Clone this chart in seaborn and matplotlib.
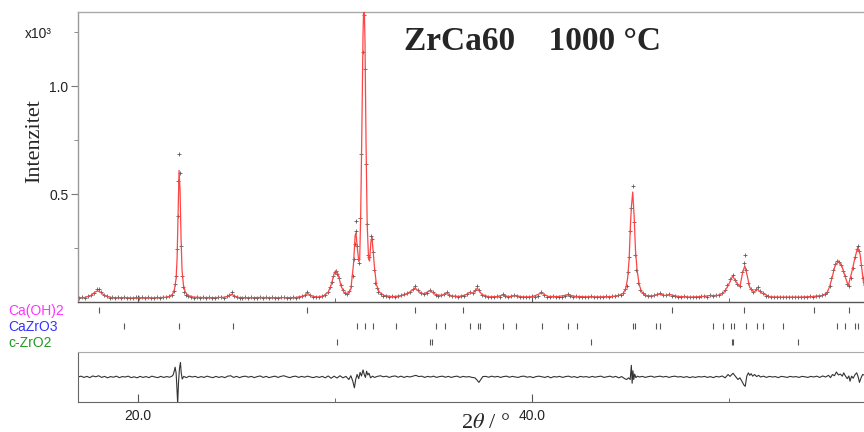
import numpy as np
import matplotlib
matplotlib.use("Agg")
import matplotlib.pyplot as plt
import seaborn as sns

# =========================================================================
# data (intensity in units of 10^3 counts)
# =========================================================================
tt_calc = [16.95, 17.3, 17.6, 17.8, 17.95, 18.1, 18.3, 18.6, 19.0, 19.3, 19.6, 20.0, 20.5,
           21.0, 21.4, 21.6, 21.75, 21.85, 21.93, 21.98, 22.03, 22.08, 22.13, 22.18, 22.23,
           22.30, 22.40, 22.55, 22.8, 23.2, 23.8, 24.4, 24.6, 24.75, 24.9, 25.1, 25.6, 26.2,
           26.8, 27.4, 28.0, 28.4, 28.6, 28.8, 29.1, 29.4, 29.65, 29.8, 29.95, 30.05, 30.15,
           30.3, 30.45, 30.65, 30.8, 30.93, 31.02, 31.06, 31.12, 31.2, 31.25, 31.3, 31.36,
           31.42, 31.47, 31.52, 31.57, 31.63, 31.7, 31.75, 31.82, 31.87, 31.93, 31.99, 32.1,
           32.25, 32.5, 32.9, 33.3, 33.6, 33.85, 34.06, 34.3, 34.5, 34.82, 35.1, 35.4, 35.67,
           35.9, 36.3, 36.6, 36.85, 37.0, 37.22, 37.45, 37.8, 38.2, 38.53, 38.8, 39.14, 39.5,
           40.0, 40.49, 40.8, 41.3, 41.83, 42.2, 42.8, 43.4, 44.0, 44.4, 44.62, 44.75, 44.85,
           44.93, 44.98, 45.04, 45.11, 45.18, 45.25, 45.33, 45.43, 45.55, 45.8, 46.1, 46.5,
           46.75, 47.0, 47.4, 48.0, 48.6, 49.04, 49.4, 49.7, 49.95, 50.18, 50.38, 50.55,
           50.69, 50.8, 50.92, 51.05, 51.26, 51.42, 51.65, 52.08, 52.6, 53.1, 53.6, 54.2,
           54.7, 54.96, 55.1, 55.21, 55.38, 55.55, 55.72, 55.88, 56.05, 56.23, 56.4, 56.53,
           56.65, 56.82, 56.9]
i_calc = [0.020, 0.021, 0.030, 0.045, 0.052, 0.045, 0.030, 0.021, 0.019, 0.021, 0.019, 0.019, 0.019,
          0.020, 0.022, 0.026, 0.036, 0.060, 0.110, 0.200, 0.400, 0.610, 0.520, 0.300, 0.150,
          0.080, 0.045, 0.030, 0.023, 0.021, 0.020, 0.022, 0.028, 0.036, 0.028, 0.021, 0.020, 0.021,
          0.020, 0.020, 0.021, 0.028, 0.040, 0.028, 0.023, 0.028, 0.045, 0.080, 0.130, 0.145, 0.130,
          0.075, 0.045, 0.038, 0.060, 0.170, 0.310, 0.320, 0.260, 0.190, 0.200, 0.400, 0.800,
          1.250, 1.420, 1.200, 0.750, 0.360, 0.200, 0.190, 0.280, 0.300, 0.240, 0.170, 0.080,
          0.045, 0.030, 0.025, 0.028, 0.035, 0.050, 0.065, 0.045, 0.038, 0.052, 0.035, 0.030, 0.042,
          0.028, 0.026, 0.032, 0.045, 0.040, 0.064, 0.035, 0.024, 0.025, 0.032, 0.025, 0.030, 0.024,
          0.024, 0.042, 0.026, 0.025, 0.033, 0.026, 0.024, 0.024, 0.025, 0.030, 0.040, 0.060, 0.110,
          0.200, 0.330, 0.440, 0.510, 0.400, 0.240, 0.150, 0.085, 0.048, 0.030, 0.028, 0.037,
          0.030, 0.034, 0.026, 0.023, 0.025, 0.030, 0.030, 0.040, 0.075, 0.120, 0.090, 0.070,
          0.137, 0.168, 0.122, 0.068, 0.045, 0.060, 0.042, 0.024, 0.023, 0.023, 0.023, 0.025,
          0.030, 0.040, 0.070, 0.106, 0.168, 0.190, 0.168, 0.122, 0.075, 0.139, 0.208, 0.253,
          0.222, 0.092, 0.070]

tt_obs = [17.00, 17.15, 17.30, 17.45, 17.60, 17.75, 17.90, 18.00, 18.10, 18.25, 18.40, 18.55,
          18.70, 18.85, 19.00, 19.15, 19.30, 19.45, 19.60, 19.75, 19.90, 20.05, 20.20, 20.35,
          20.50, 20.65, 20.80, 20.95, 21.10, 21.25, 21.40, 21.55, 21.70, 21.80, 21.88, 21.95,
          21.99, 22.02, 22.05, 22.08, 22.12, 22.16, 22.21, 22.27, 22.34, 22.42, 22.55, 22.70,
          22.85, 23.00, 23.15, 23.30, 23.45, 23.60, 23.75, 23.90, 24.05, 24.20, 24.35, 24.50,
          24.62, 24.75, 24.88, 25.00, 25.15, 25.30, 25.45, 25.60, 25.75, 25.90, 26.05, 26.20,
          26.35, 26.50, 26.65, 26.80, 26.95, 27.10, 27.25, 27.40, 27.55, 27.70, 27.85, 28.00,
          28.15, 28.30, 28.45, 28.60, 28.75, 28.90, 29.05, 29.20, 29.35, 29.50, 29.62, 29.72,
          29.82, 29.92, 30.00, 30.05, 30.12, 30.20, 30.28, 30.38, 30.50, 30.62, 30.72, 30.82,
          30.90, 30.97, 31.01, 31.04, 31.07, 31.10, 31.15, 31.20, 31.26, 31.34, 31.44, 31.48,
          31.51, 31.58, 31.63, 31.68, 31.73, 31.80, 31.85, 31.90, 31.97, 32.04, 32.12, 32.20,
          32.32, 32.45, 32.60, 32.75, 32.90, 33.05, 33.20, 33.35, 33.50, 33.65, 33.80, 33.95,
          34.06, 34.20, 34.35, 34.50, 34.65, 34.80, 34.95, 35.10, 35.25, 35.40, 35.55, 35.67,
          35.80, 35.95, 36.10, 36.25, 36.40, 36.55, 36.70, 36.85, 37.00, 37.10, 37.20, 37.32,
          37.45, 37.60, 37.75, 37.90, 38.05, 38.20, 38.35, 38.50, 38.65, 38.80, 38.95, 39.10,
          39.25, 39.40, 39.55, 39.70, 39.85, 40.00, 40.15, 40.30, 40.45, 40.60, 40.75, 40.90,
          41.05, 41.20, 41.35, 41.50, 41.65, 41.80, 41.95, 42.10, 42.25, 42.40, 42.55, 42.70,
          42.85, 43.00, 43.15, 43.30, 43.45, 43.60, 43.75, 43.90, 44.05, 44.20, 44.35, 44.50,
          44.62, 44.72, 44.80, 44.87, 44.92, 44.97, 45.03, 45.10, 45.16, 45.22, 45.30, 45.40,
          45.50, 45.62, 45.75, 45.90, 46.05, 46.20, 46.35, 46.50, 46.65, 46.80, 46.95, 47.10,
          47.25, 47.40, 47.55, 47.70, 47.85, 48.00, 48.15, 48.30, 48.45, 48.60, 48.75, 48.90,
          49.05, 49.20, 49.35, 49.50, 49.65, 49.80, 49.92, 50.05, 50.18, 50.30, 50.42, 50.55,
          50.66, 50.75, 50.80, 50.88, 50.98, 51.10, 51.22, 51.35, 51.45, 51.58, 51.70, 51.85,
          52.00, 52.15, 52.30, 52.45, 52.60, 52.75, 52.90, 53.05, 53.20, 53.35, 53.50, 53.65,
          53.80, 53.95, 54.10, 54.25, 54.40, 54.55, 54.70, 54.85, 54.98, 55.10, 55.20, 55.30,
          55.40, 55.50, 55.60, 55.70, 55.80, 55.90, 56.00, 56.08, 56.18, 56.28, 56.38, 56.48,
          56.55, 56.62, 56.72, 56.80, 56.88]
i_obs = [0.018, 0.022, 0.020, 0.026, 0.032, 0.044, 0.058, 0.060, 0.048, 0.034, 0.026, 0.020,
         0.022, 0.017, 0.021, 0.019, 0.023, 0.018, 0.020, 0.017, 0.022, 0.019, 0.021, 0.017,
         0.022, 0.019, 0.018, 0.023, 0.020, 0.022, 0.024, 0.027, 0.034, 0.050, 0.085, 0.120,
         0.245, 0.400, 0.560, 0.685, 0.600, 0.260, 0.120, 0.070, 0.045, 0.032, 0.026, 0.022,
         0.020, 0.023, 0.019, 0.021, 0.018, 0.022, 0.020, 0.017, 0.021, 0.023, 0.020, 0.026,
         0.032, 0.045, 0.030, 0.024, 0.020, 0.018, 0.022, 0.019, 0.021, 0.017, 0.020, 0.023,
         0.019, 0.021, 0.018, 0.022, 0.020, 0.017, 0.021, 0.023, 0.019, 0.020, 0.022, 0.020,
         0.023, 0.026, 0.033, 0.045, 0.032, 0.025, 0.022, 0.024, 0.027, 0.033, 0.045, 0.070,
         0.095, 0.120, 0.140, 0.145, 0.130, 0.110, 0.080, 0.055, 0.040, 0.037, 0.050, 0.075,
         0.120, 0.200, 0.270, 0.330, 0.375, 0.260, 0.200, 0.180, 0.390, 0.685, 1.160, 1.330,
         1.080, 0.640, 0.360, 0.220, 0.210, 0.305, 0.290, 0.230, 0.150, 0.090, 0.065, 0.048,
         0.036, 0.030, 0.026, 0.024, 0.027, 0.023, 0.029, 0.031, 0.035, 0.040, 0.048, 0.060,
         0.072, 0.055, 0.044, 0.038, 0.042, 0.055, 0.045, 0.034, 0.029, 0.032, 0.038, 0.048,
         0.033, 0.026, 0.028, 0.024, 0.027, 0.030, 0.036, 0.048, 0.042, 0.055, 0.072, 0.055,
         0.034, 0.026, 0.022, 0.025, 0.021, 0.026, 0.024, 0.035, 0.028, 0.023, 0.026, 0.032,
         0.027, 0.022, 0.025, 0.021, 0.024, 0.026, 0.023, 0.028, 0.045, 0.033, 0.025, 0.022,
         0.026, 0.024, 0.021, 0.025, 0.028, 0.036, 0.029, 0.024, 0.026, 0.022, 0.025, 0.023,
         0.021, 0.026, 0.024, 0.022, 0.025, 0.023, 0.027, 0.024, 0.026, 0.028, 0.031, 0.034,
         0.042, 0.060, 0.075, 0.140, 0.210, 0.330, 0.435, 0.540, 0.370, 0.220, 0.150, 0.090,
         0.055, 0.040, 0.032, 0.028, 0.030, 0.033, 0.035, 0.040, 0.032, 0.034, 0.038, 0.030,
         0.027, 0.025, 0.023, 0.026, 0.022, 0.024, 0.021, 0.025, 0.023, 0.026, 0.028, 0.025,
         0.031, 0.028, 0.032, 0.034, 0.040, 0.055, 0.080, 0.105, 0.125, 0.100, 0.085, 0.075,
         0.140, 0.180, 0.218, 0.150, 0.090, 0.060, 0.048, 0.058, 0.070, 0.050, 0.040, 0.030,
         0.026, 0.023, 0.025, 0.022, 0.024, 0.021, 0.025, 0.023, 0.022, 0.024, 0.021, 0.025,
         0.023, 0.022, 0.026, 0.024, 0.027, 0.029, 0.032, 0.036, 0.048, 0.075, 0.110, 0.150,
         0.175, 0.190, 0.185, 0.170, 0.145, 0.120, 0.085, 0.075, 0.110, 0.160, 0.210, 0.245,
         0.260, 0.235, 0.170, 0.110, 0.080]

tt_diff = [16.95, 17.1, 17.25, 17.4, 17.55, 17.7, 17.85, 18.0, 18.15, 18.3, 18.45, 18.6, 18.75,
           18.9, 19.05, 19.2, 19.35, 19.5, 19.65, 19.8, 19.95, 20.1, 20.25, 20.4, 20.55, 20.7,
           20.85, 21.0, 21.15, 21.3, 21.45, 21.6, 21.72, 21.78, 21.84, 21.88, 21.93, 21.97,
           22.01, 22.05, 22.1, 22.15, 22.19, 22.24, 22.32, 22.45, 22.6, 22.75, 22.9, 23.05,
           23.2, 23.35, 23.5, 23.65, 23.8, 23.95, 24.1, 24.25, 24.4, 24.55, 24.7, 24.85, 25.0,
           25.15, 25.3, 25.45, 25.6, 25.75, 25.9, 26.05, 26.2, 26.35, 26.5, 26.65, 26.8, 26.95,
           27.1, 27.25, 27.4, 27.55, 27.7, 27.85, 28.0, 28.15, 28.3, 28.45, 28.6, 28.75, 28.9,
           29.05, 29.2, 29.35, 29.5, 29.65, 29.8, 29.95, 30.1, 30.25, 30.4, 30.55, 30.7, 30.8,
           30.9, 30.98, 31.05, 31.12, 31.2, 31.27, 31.34, 31.42, 31.48, 31.54, 31.6, 31.66,
           31.72, 31.8, 31.9, 32.0, 32.15, 32.3, 32.45, 32.6, 32.75, 32.9, 33.05, 33.2, 33.35,
           33.5, 33.65, 33.8, 33.95, 34.1, 34.25, 34.4, 34.55, 34.7, 34.85, 35.0, 35.15, 35.3,
           35.45, 35.6, 35.75, 35.9, 36.05, 36.2, 36.35, 36.5, 36.65, 36.8, 36.95, 37.1, 37.2,
           37.3, 37.4, 37.5, 37.65, 37.8, 37.95, 38.1, 38.25, 38.4, 38.55, 38.7, 38.85, 39.0,
           39.15, 39.3, 39.45, 39.6, 39.75, 39.9, 40.05, 40.2, 40.35, 40.5, 40.65, 40.8, 40.95,
           41.1, 41.25, 41.4, 41.55, 41.7, 41.85, 42.0, 42.15, 42.3, 42.45, 42.6, 42.75, 42.9,
           43.05, 43.2, 43.35, 43.5, 43.65, 43.8, 43.95, 44.1, 44.25, 44.4, 44.55, 44.7, 44.8,
           44.9, 44.98, 45.04, 45.08, 45.12, 45.16, 45.21, 45.27, 45.35, 45.45, 45.6, 45.75,
           45.9, 46.05, 46.2, 46.35, 46.5, 46.65, 46.8, 46.95, 47.1, 47.25, 47.4, 47.55, 47.7,
           47.85, 48.0, 48.15, 48.3, 48.45, 48.6, 48.75, 48.9, 49.05, 49.2, 49.35, 49.5, 49.65,
           49.8, 49.95, 50.05, 50.2, 50.3, 50.45, 50.55, 50.65, 50.75, 50.82, 50.9, 50.98,
           51.05, 51.12, 51.2, 51.3, 51.4, 51.5, 51.6, 51.75, 51.9, 52.05, 52.2, 52.35, 52.5,
           52.65, 52.8, 52.95, 53.1, 53.25, 53.4, 53.55, 53.7, 53.85, 54.0, 54.15, 54.3, 54.45,
           54.6, 54.75, 54.9, 55.05, 55.15, 55.25, 55.35, 55.45, 55.55, 55.65, 55.75, 55.82,
           55.9, 56.0, 56.08, 56.14, 56.22, 56.3, 56.4, 56.48, 56.55, 56.62, 56.7, 56.78, 56.9]
i_diff = [0.000, 0.004, -0.002, 0.003, -0.003, 0.005, 0.001, 0.006, -0.002, 0.003, -0.004, 0.002, -0.001,
          0.004, -0.003, 0.002, 0.000, 0.004, -0.003, 0.001, -0.004, 0.003, -0.002, 0.002, -0.003, 0.004,
          0.000, -0.003, 0.003, -0.002, 0.002, -0.001, 0.004, 0.010, 0.030, 0.047, 0.020, -0.050,
          -0.130, -0.030, 0.040, 0.070, 0.020, -0.010, 0.003, -0.003, 0.004, 0.000, 0.003, -0.003,
          0.002, -0.002, 0.004, 0.000, -0.003, 0.003, -0.002, 0.002, -0.003, 0.004, 0.006, -0.002, 0.003,
          -0.003, 0.002, 0.004, -0.001, 0.003, -0.003, 0.002, 0.005, -0.002, 0.003, -0.003, 0.001, 0.004,
          -0.002, 0.003, 0.006, 0.001, -0.003, 0.002, 0.004, -0.002, 0.003, -0.001, 0.004, 0.000, -0.003,
          0.002, -0.002, 0.003, -0.004, 0.005, -0.006, 0.004, -0.005, 0.006, -0.004, 0.003, -0.012, 0.006,
          -0.020, -0.052, -0.010, 0.012, -0.008, 0.022, 0.005, 0.034, 0.012, -0.002, 0.028, 0.010,
          0.018, -0.004, 0.004, -0.002, 0.003, 0.006, 0.001, 0.004, -0.002, 0.003, 0.005, -0.001, 0.004,
          -0.002, 0.003, 0.000, 0.004, 0.008, 0.002, 0.004, -0.002, 0.003, 0.000, 0.004, -0.002, 0.002,
          0.004, -0.001, 0.003, -0.002, 0.002, 0.004, -0.002, 0.003, 0.000, 0.002, -0.002, -0.004, -0.014,
          -0.026, -0.012, 0.002, 0.003, -0.001, 0.004, 0.000, 0.003, -0.002, 0.002, 0.004, -0.001, 0.003,
          0.000, -0.002, 0.003, 0.004, -0.001, 0.002, -0.003, 0.002, 0.004, 0.001, -0.002, 0.003, -0.004,
          0.002, 0.000, 0.003, -0.002, 0.002, 0.004, -0.001, 0.002, -0.003, 0.003, 0.000, 0.002, -0.002,
          0.003, -0.001, 0.002, 0.004, -0.002, 0.001, 0.004, -0.001, 0.003, -0.004, 0.002, -0.008, -0.012,
          -0.004, -0.012, 0.056, -0.030, 0.030, -0.012, 0.014, -0.003, 0.004, 0.000, 0.003, -0.002,
          0.002, 0.004, -0.001, 0.002, 0.004, 0.000, 0.003, -0.002, 0.002, 0.004, 0.000, 0.002, -0.002,
          0.002, -0.003, 0.001, -0.002, 0.002, 0.000, 0.003, -0.002, 0.002, -0.003, 0.003, 0.000, 0.005,
          -0.004, 0.012, 0.003, 0.018, 0.006, -0.012, -0.004, -0.020, -0.038, -0.045, 0.004, 0.020,
          0.008, 0.016, 0.004, 0.012, 0.002, 0.008, 0.000, 0.004, -0.002, 0.003, 0.000, 0.002, -0.003,
          0.003, 0.001, -0.002, 0.003, 0.000, 0.002, -0.002, 0.003, 0.001, -0.002, 0.003, 0.000, 0.004,
          -0.002, 0.005, 0.000, 0.008, -0.003, 0.012, 0.006, 0.024, 0.010, 0.014, 0.004, 0.020,
          0.006, -0.008, 0.005, -0.020, 0.004, -0.006, 0.012, 0.020, 0.002, -0.026, -0.004, 0.012, 0.008]

# Bragg reflection positions
phases = ["Ca(OH)2", "CaZrO3", "c-ZrO2"]
phase_colors = ["#ff33ff", "#3333ff", "#229922"]
bragg_caoh2 = [18.0, 28.6, 34.06, 36.5, 47.1, 50.76, 54.3, 56.1]
bragg_cazro3 = [19.3, 22.1, 24.8, 31.1, 31.5, 31.9, 33.1, 35.1, 35.6, 36.85, 37.25, 37.35,
                38.5, 39.2, 40.5, 41.8, 42.3, 45.1, 45.2, 46.3, 46.5, 49.2, 49.7, 50.1,
                50.25, 50.85, 51.4, 51.7, 52.75, 55.5, 55.9, 56.4, 56.55]
bragg_zro2 = [30.1, 34.8, 34.9, 43.0, 50.15, 50.2, 53.5]

# =========================================================================
# figure
# =========================================================================
sns.set_style("ticks")
plt.rcParams.update({
    'font.family': ['Liberation Sans', 'DejaVu Sans'],
    'mathtext.fontset': 'stix',
})

W, H = 864, 432
fig = plt.figure(figsize=(8.64, 4.32), dpi=100)
left = 78 / W

ax = fig.add_axes([left, 130 / H, 1 - left, 290 / H])
ax_bragg = fig.add_axes([left, 80 / H, 1 - left, 50 / H], sharex=ax)
ax_diff = fig.add_axes([left, 30 / H, 1 - left, 50 / H], sharex=ax)

# main pattern: observed (grey crosses) + calculated (red line)
sns.scatterplot(x=tt_obs, y=i_obs, ax=ax, marker="+", s=9, color="#5a5a5a",
                linewidth=0.6, zorder=2)
sns.lineplot(x=tt_calc, y=i_calc, ax=ax, color="#ff4444", lw=0.9, zorder=3)
ax.set_xlim(16.95, 56.85)
ax.set_ylim(0.0, 1.345)
ax.set_yticks([0.5, 1.0])
ax.set_yticklabels(["0.5", "1.0"])
ax.set_yticks([0.25, 0.75, 1.25], minor=True)
ax.set_xticks([20, 40])
ax.set_xticks([30, 50], minor=True)
ax.tick_params(axis='y', which='major', direction='out', length=5, color='#777',
               labelsize=10, labelcolor='#222', pad=2)
ax.tick_params(axis='y', which='minor', direction='out', length=3, color='#777')
ax.tick_params(axis='x', which='both', direction='in', labelbottom=False, color='#555')
ax.tick_params(axis='x', which='major', length=5)
ax.tick_params(axis='x', which='minor', length=3)
ax.spines['right'].set_visible(False)
ax.spines['top'].set_visible(True)
ax.spines['top'].set_color('#aaaaaa')
ax.spines['left'].set_color('#999999')
ax.spines['bottom'].set_color('#555555')
for s in ax.spines.values():
    s.set_linewidth(1.0)
ax.set_xlabel("")
ax.set_ylabel("")

# Bragg tick rows
rows = [0.84, 0.52, 0.20]
for pos, yrow in zip([bragg_caoh2, bragg_cazro3, bragg_zro2], rows):
    sns.scatterplot(x=pos, y=[yrow] * len(pos), ax=ax_bragg, marker="|", s=14,
                    color="#555555", linewidth=0.8)
ax_bragg.set_ylim(0, 1)
ax_bragg.axis('off')

# difference curve
sns.lineplot(x=tt_diff, y=i_diff, ax=ax_diff, color="#333333", lw=0.8)
ax_diff.set_ylim(-0.12, 0.12)
ax_diff.set_yticks([])
ax_diff.set_xticks([20, 40])
ax_diff.set_xticklabels(["20.0", "40.0"])
ax_diff.set_xticks([30, 50], minor=True)
ax_diff.tick_params(axis='x', which='major', direction='in', length=6, color='#555',
                    labelsize=10, labelcolor='#222', pad=5)
ax_diff.tick_params(axis='x', which='minor', direction='in', length=3, color='#555')
ax_diff.spines['right'].set_visible(False)
ax_diff.spines['top'].set_visible(True)
ax_diff.spines['top'].set_color('#aaaaaa')
ax_diff.spines['left'].set_color('#666666')
ax_diff.spines['bottom'].set_color('#666666')
ax_diff.set_xlabel("")
ax_diff.set_ylabel("")

# texts
for name, col, yrow in zip(phases, phase_colors, [311, 327, 343]):
    fig.text(8 / W, 1 - yrow / H, name, color=col, fontsize=10, ha='left', va='center')

fig.text(532 / W, 1 - 41 / H, "ZrCa60    1000 °C", fontsize=24, fontweight='bold',
         family=['Liberation Serif', 'DejaVu Serif'], ha='center', va='center')
fig.text(25 / W, 1 - 34 / H, "x10³", fontsize=10, color='#222', ha='left', va='center')
fig.text(35 / W, 1 - 141 / H, "Intenzitet", fontsize=16, rotation=90,
         family=['Liberation Serif', 'DejaVu Serif'], ha='center', va='center')
fig.text(485 / W, 4 / H, r"2$\theta$ / °", fontsize=16,
         family=['Liberation Serif', 'DejaVu Serif'], ha='center', va='baseline')

fig.savefig("out.png", dpi=100)
